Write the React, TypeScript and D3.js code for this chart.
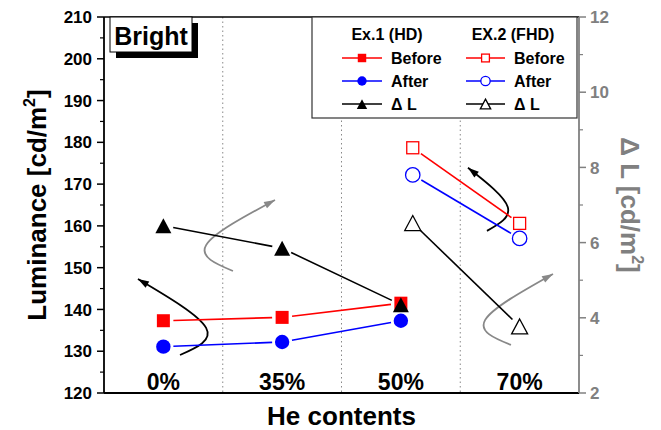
import React from "react";
import * as d3 from "d3";

const categories = ["0%", "35%", "50%", "70%"];
const ex1X = [0, 1, 2];
const ex1Before = [137.3, 138.1, 141.5];
const ex1After = [131.1, 132.2, 137.3];
const ex1Delta = [6.45, 5.85, 4.35];
const ex2X = [2.1, 3];
const ex2Before = [178.7, 160.6];
const ex2After = [172.2, 157.0];
const ex2Delta = [6.52, 3.77];
const leftTicks = [120, 130, 140, 150, 160, 170, 180, 190, 200, 210];
const rightTicks = [2, 4, 6, 8, 10, 12];
// curved annotation arrows: [start, mid, end] in (category index, luminance)
const arrows = [
  { pts: [[0.14, 129.1], [0.36, 135.6], [-0.214, 147.3]], color: "#000" },
  { pts: [[0.586, 149.2], [0.36, 155.4], [0.94, 166.2]], color: "#888" },
  { pts: [[2.725, 158.8], [2.9, 164.5], [2.565, 173.9]], color: "#000" },
  { pts: [[2.927, 131.5], [2.71, 137.5], [3.281, 148.5]], color: "#888" },
];

const W = 661, H = 430;
const L = 104, R = 579, T = 17, B = 393;
const FONT = "'Liberation Sans', Arial, sans-serif";
const GRAY = "#808080";

const xs = d3.scaleLinear().domain([-0.5, 3.5]).range([L, R]);
const yL = d3.scaleLinear().domain([120, 210]).range([B, T]);
const yR = d3.scaleLinear().domain([2, 12]).range([B, T]);

type P = [number, number];

function gapSegments(pts: P[], gap: number) {
  const segs: string[] = [];
  for (let i = 0; i < pts.length - 1; i++) {
    const [x1, y1] = pts[i];
    const [x2, y2] = pts[i + 1];
    const dx = x2 - x1, dy = y2 - y1;
    const len = Math.hypot(dx, dy);
    const ux = dx / len, uy = dy / len;
    segs.push(`M${x1 + ux * gap},${y1 + uy * gap}L${x2 - ux * gap},${y2 - uy * gap}`);
  }
  return segs.join("");
}

function Marker({ kind, x, y, color, size = 1 }: { kind: string; x: number; y: number; color: string; size?: number }) {
  if (kind === "sq") {
    const s = 13 * size;
    return <rect x={x - s / 2} y={y - s / 2} width={s} height={s} fill={color} />;
  }
  if (kind === "osq") {
    const s = 12 * size;
    return <rect x={x - s / 2} y={y - s / 2} width={s} height={s} fill="#fff" stroke={color} strokeWidth={1.3} />;
  }
  if (kind === "ci") return <circle cx={x} cy={y} r={7.2 * size} fill={color} />;
  if (kind === "oci") return <circle cx={x} cy={y} r={7.2 * size} fill="#fff" stroke={color} strokeWidth={1.3} />;
  const w = 16 * size, h = 15 * size;
  const d = `M${x},${y - h / 2}L${x + w / 2},${y + h / 2}L${x - w / 2},${y + h / 2}Z`;
  if (kind === "tri") return <path d={d} fill={color} />;
  return <path d={d} fill="#fff" stroke={color} strokeWidth={1.3} />;
}

function Series({ xv, yv, scale, color, kind }: { xv: number[]; yv: number[]; scale: any; color: string; kind: string }) {
  const pts: P[] = xv.map((v, i) => [xs(v), scale(yv[i])]);
  return (
    <g>
      <path d={gapSegments(pts, 10)} stroke={color} strokeWidth={1.6} fill="none" />
      {pts.map((p, i) => (
        <Marker key={i} kind={kind} x={p[0]} y={p[1]} color={color} />
      ))}
    </g>
  );
}

function CurvedArrow({ pts, color }: { pts: number[][]; color: string }) {
  const p: P[] = pts.map((q) => [xs(q[0]), yL(q[1])] as P);
  const line = d3.line().curve(d3.curveNatural);
  // natural spline end tangent (uniform parameter): (P2-P1) + M1/6, M1 = 1.5*(P0-2P1+P2)
  const m1x = 1.5 * (p[0][0] - 2 * p[1][0] + p[2][0]);
  const m1y = 1.5 * (p[0][1] - 2 * p[1][1] + p[2][1]);
  const dx = p[2][0] - p[1][0] + m1x / 6, dy = p[2][1] - p[1][1] + m1y / 6;
  const len = Math.hypot(dx, dy);
  const ux = dx / len, uy = dy / len;
  const hl = 11, hw = 3.6;
  const bx = p[2][0] - ux * hl, by = p[2][1] - uy * hl;
  const head = `M${p[2][0]},${p[2][1]}L${bx - uy * hw},${by + ux * hw}L${bx + uy * hw},${by - ux * hw}Z`;
  return (
    <g>
      <path d={line(p) || ""} stroke={color} strokeWidth={1.8} fill="none" />
      <path d={head} fill={color} />
    </g>
  );
}

export default function App() {
  const minorL = d3.range(125, 210, 10);
  const minorR = d3.range(3, 12, 2);
  const legendRows = [
    { y: 58, label: "Before", c: "#ff0000", k1: "sq", k2: "osq" },
    { y: 81, label: "After", c: "#0000ff", k1: "ci", k2: "oci" },
    { y: 104, label: "Δ L", c: "#000", k1: "tri", k2: "otri" },
  ];
  return (
    <svg width={W} height={H} style={{ position: "absolute", left: 0, top: 0, background: "#fff" }} fontFamily={FONT}>
      <rect width={W} height={H} fill="#fff" />
      {[0.5, 1.5, 2.5].map((v) => (
        <line key={v} x1={xs(v)} x2={xs(v)} y1={T} y2={B} stroke="#888" strokeWidth={1} strokeDasharray="1.5,3" />
      ))}
      <line x1={L} x2={R} y1={T} y2={T} stroke="#000" strokeWidth={1.5} />
      <line x1={L} x2={R} y1={B} y2={B} stroke="#000" strokeWidth={1.8} />
      <line x1={L} x2={L} y1={T} y2={B} stroke="#000" strokeWidth={1.8} />
      <line x1={R} x2={R} y1={T} y2={B} stroke={GRAY} strokeWidth={1.8} />
      {leftTicks.map((t) => (
        <g key={t}>
          <line x1={L - 7} x2={L} y1={yL(t)} y2={yL(t)} stroke="#000" strokeWidth={1.5} />
          <text x={92} y={yL(t)} dy="0.36em" textAnchor="end" fontSize={17} fontWeight="bold">{t}</text>
        </g>
      ))}
      {minorL.map((t) => (
        <line key={t} x1={L - 4} x2={L} y1={yL(t)} y2={yL(t)} stroke="#000" strokeWidth={1.2} />
      ))}
      {rightTicks.map((t) => (
        <g key={t}>
          <line x1={R} x2={R + 7} y1={yR(t)} y2={yR(t)} stroke={GRAY} strokeWidth={1.5} />
          <text x={590} y={yR(t)} dy="0.36em" textAnchor="start" fontSize={17} fontWeight="bold" fill={GRAY}>{t}</text>
        </g>
      ))}
      {minorR.map((t) => (
        <line key={t} x1={R} x2={R + 4} y1={yR(t)} y2={yR(t)} stroke={GRAY} strokeWidth={1.2} />
      ))}
      {categories.map((c, i) => (
        <text key={c} x={xs(i)} y={390} textAnchor="middle" fontSize={23} fontWeight="bold">{c}</text>
      ))}
      <text x={(L + R) / 2} y={425} textAnchor="middle" fontSize={26} fontWeight="bold">He contents</text>
      <text transform={`translate(46,${(T + B) / 2}) rotate(-90)`} textAnchor="middle" fontSize={26} fontWeight="bold">
        Luminance [cd/m<tspan fontSize={16} dy={-11}>2</tspan><tspan dy={11}>]</tspan>
      </text>
      <text transform={`translate(621,${(T + B) / 2}) rotate(90)`} textAnchor="middle" fontSize={26} fontWeight="bold" fill={GRAY}>
        Δ L [cd/m<tspan fontSize={16} dy={-11}>2</tspan><tspan dy={11}>]</tspan>
      </text>
      {arrows.map((a, i) => (
        <CurvedArrow key={i} pts={a.pts} color={a.color} />
      ))}
      <Series xv={ex1X} yv={ex1Before} scale={yL} color="#ff0000" kind="sq" />
      <Series xv={ex1X} yv={ex1After} scale={yL} color="#0000ff" kind="ci" />
      <Series xv={ex1X} yv={ex1Delta} scale={yR} color="#000" kind="tri" />
      <Series xv={ex2X} yv={ex2Before} scale={yL} color="#ff0000" kind="osq" />
      <Series xv={ex2X} yv={ex2After} scale={yL} color="#0000ff" kind="oci" />
      <Series xv={ex2X} yv={ex2Delta} scale={yR} color="#000" kind="otri" />
      <rect x={116} y={23} width={82} height={35} fill="#000" />
      <rect x={110} y={17} width={82} height={35} fill="#fff" stroke="#000" strokeWidth={1} />
      <text x={151} y={45} textAnchor="middle" fontSize={25} fontWeight="bold">Bright</text>
      <rect x={312} y={17} width={265} height={101} fill="#fff" stroke="#333" strokeWidth={1.2} />
      <text x={387} y={40} textAnchor="middle" fontSize={16} fontWeight="bold">Ex.1 (HD)</text>
      <text x={513} y={40} textAnchor="middle" fontSize={16} fontWeight="bold">EX.2 (FHD)</text>
      {legendRows.map((r) => (
        <g key={r.label}>
          <line x1={342} x2={382} y1={r.y} y2={r.y} stroke={r.c} strokeWidth={1.5} />
          <Marker kind={r.k1} x={362} y={r.y} color={r.c} size={0.65} />
          <text x={391} y={r.y} dy="0.36em" fontSize={16} fontWeight="bold">{r.label}</text>
          <line x1={466} x2={505} y1={r.y} y2={r.y} stroke={r.c} strokeWidth={1.5} />
          <Marker kind={r.k2} x={485.5} y={r.y} color={r.c} size={0.65} />
          <text x={514} y={r.y} dy="0.36em" fontSize={16} fontWeight="bold">{r.label}</text>
        </g>
      ))}
    </svg>
  );
}
